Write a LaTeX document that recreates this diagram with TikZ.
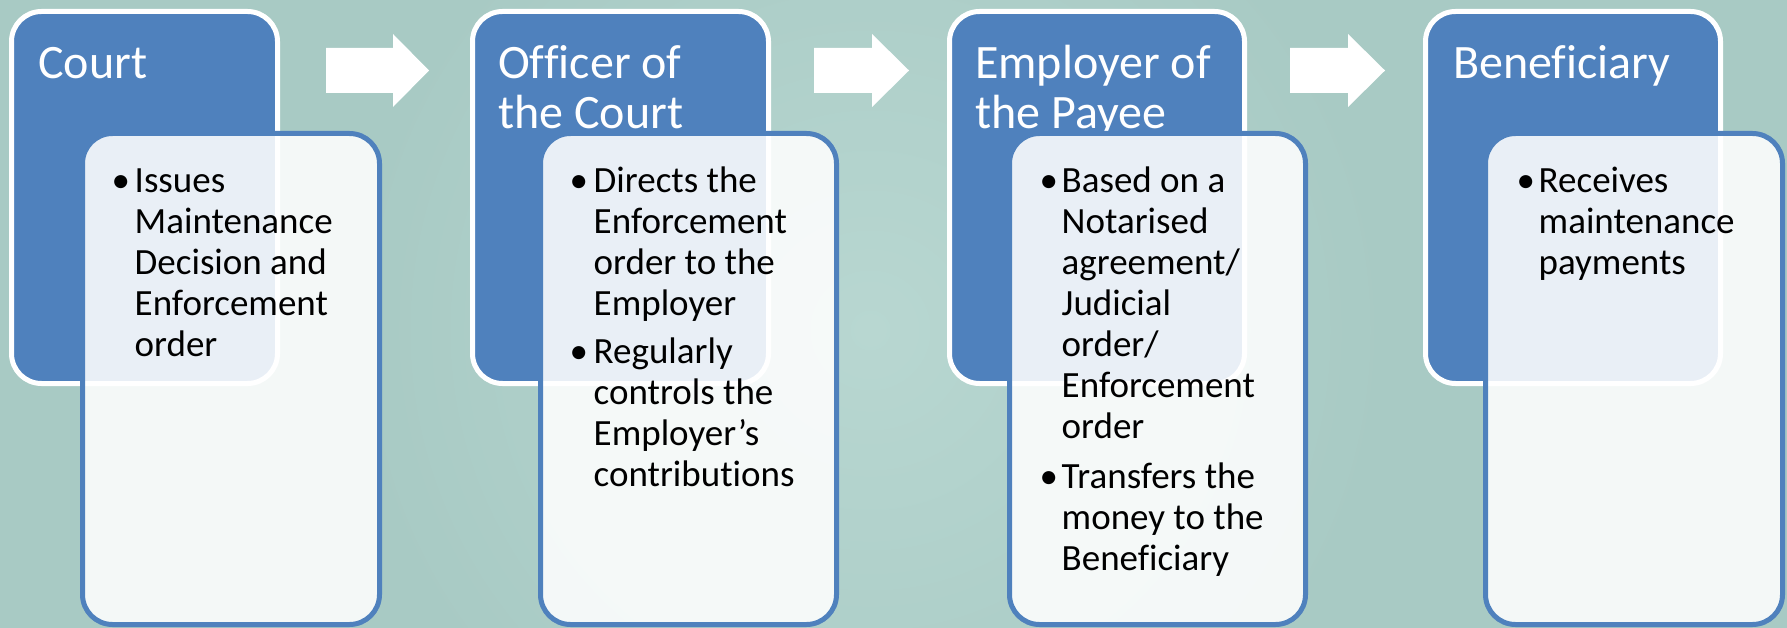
\documentclass[tikz,border=0pt]{standalone}
\usepackage{fontspec}
\setmainfont[Ligatures=CommonOff]{Carlito}
\definecolor{bg}{HTML}{A8CAC4}
\definecolor{bgl}{HTML}{B8D7D1}
\definecolor{ofblue}{HTML}{4F81BD}
\newcommand{\stk}[1]{\begin{tabular}[t]{@{}l@{}}#1\end{tabular}}
\tikzset{
  stage/.style={draw=white, fill=ofblue, line width=5pt, rounded corners=30pt,
    inner sep=0pt, outer sep=0pt, anchor=north west, minimum height=372pt},
  detail/.style={draw=ofblue, fill=white, fill opacity=0.88, line width=5pt,
    rounded corners=30pt, inner sep=0pt, outer sep=0pt, anchor=north west,
    minimum height=491pt},
  ttl/.style={text=white, font=\fontsize{48}{50}\selectfont, anchor=base west, inner sep=0pt},
  itm/.style={text=black, font=\fontsize{37}{41}\selectfont, anchor=base west, inner sep=0pt},
  blt/.style={text=black, font=\fontsize{37}{41}\selectfont, anchor=base west, inner sep=0pt},
  flow/.style={fill=white, draw=none}
}
\begin{document}
\begin{tikzpicture}[x=1pt,y=-1pt]
\useasboundingbox (0,0) rectangle (1787,628);
\fill[bg] (0,0) rectangle (1787,628);
\shade[inner color=bgl, outer color=bg] (870,330) circle (520);

% stage 1
\node[stage, minimum width=266pt] (s1) at (11.5,11.5) {};
\node[ttl] (t1) at (38,79) {Court};
\node[detail, minimum width=297pt] (d1) at (82.5,133.5) {};
\node[blt] (b11) at (111.5,193) {•};
\node[itm] (i11) at (134.5,193) {\stk{Issues\\Maintenance\\Decision and\\Enforcement\\order}};

% stage 2
\node[stage, minimum width=296pt] (s2) at (472.5,11.5) {};
\node[ttl] (t2) at (498,79) {\stk{Officer of\\the Court}};
\node[detail, minimum width=296pt] (d2) at (540.5,133.5) {};
\node[blt] (b21) at (569.5,193) {•};
\node[itm] (i21) at (593.5,193) {\stk{Directs the\\Enforcement\\order to the\\Employer}};
\node[blt] (b22) at (569.5,363) {•};
\node[itm] (i22) at (593.5,363) {\stk{Regularly\\controls the\\Employer’s\\contributions}};

% stage 3
\node[stage, minimum width=295pt] (s3) at (949.5,11.5) {};
\node[ttl] (t3) at (975,79) {\stk{Employer of\\the Payee}};
\node[detail, minimum width=296pt] (d3) at (1009.5,133.5) {};
\node[blt] (b31) at (1039.5,193) {•};
\node[itm] (i31) at (1061.5,193) {\stk{Based on a\\Notarised\\agreement/\\Judicial\\order/\\Enforcement\\order}};
\node[blt] (b32) at (1039.5,488) {•};
\node[itm] (i32) at (1061.5,488) {\stk{Transfers the\\money to the\\Beneficiary}};

% stage 4
\node[stage, minimum width=295pt] (s4) at (1425.5,11.5) {};
\node[ttl] (t4) at (1453,79) {Beneficiary};
\node[detail, minimum width=297pt] (d4) at (1485.5,133.5) {};
\node[blt] (b41) at (1516.5,193) {•};
\node[itm] (i41) at (1538.5,193) {\stk{Receives\\maintenance\\payments}};

% block arrows
\fill[flow] (326,48) -- (393,48) -- (393,34) -- (429,70.5) -- (393,107) -- (393,93) -- (326,93) -- cycle;
\fill[flow] (814,48) -- (872,48) -- (872,34) -- (909,70.5) -- (872,107) -- (872,93) -- (814,93) -- cycle;
\fill[flow] (1290,48) -- (1348,48) -- (1348,34) -- (1385,70.5) -- (1348,107) -- (1348,93) -- (1290,93) -- cycle;
\end{tikzpicture}
\end{document}
